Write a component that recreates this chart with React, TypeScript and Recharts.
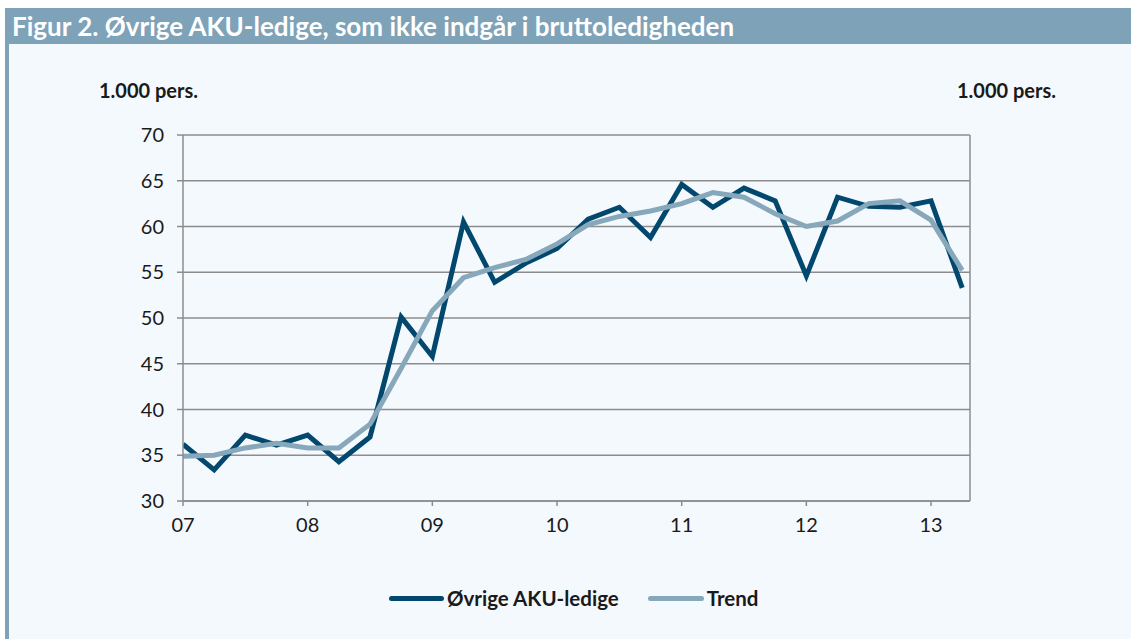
import { LineChart, Line, XAxis, YAxis, CartesianGrid } from 'recharts';

// quarterly, 2007 Q1 .. 2013 Q2
const quarters = [
  '07K1', '07K2', '07K3', '07K4',
  '08K1', '08K2', '08K3', '08K4',
  '09K1', '09K2', '09K3', '09K4',
  '10K1', '10K2', '10K3', '10K4',
  '11K1', '11K2', '11K3', '11K4',
  '12K1', '12K2', '12K3', '12K4',
  '13K1', '13K2',
];

const aku = [
  36.2, 33.4, 37.2, 36.1,
  37.2, 34.3, 37.0, 50.1,
  45.8, 60.5, 53.9, 56.0,
  57.6, 60.8, 62.1, 58.8,
  64.6, 62.1, 64.2, 62.8,
  54.6, 63.2, 62.2, 62.1,
  62.8, 53.3,
];

const trend = [
  34.9, 35.0, 35.8, 36.3,
  35.8, 35.8, 38.4, 44.5,
  50.8, 54.4, 55.5, 56.4,
  58.1, 60.2, 61.1, 61.7,
  62.5, 63.7, 63.2, 61.4,
  60.0, 60.6, 62.5, 62.8,
  60.7, 55.2,
];

const yearLabels = ['07', '08', '09', '10', '11', '12', '13'];
const yTicks = [30, 35, 40, 45, 50, 55, 60, 65, 70];

const data = quarters.map((q, i) => ({ q, i, aku: aku[i], trend: trend[i] }));

const DARK = '#02476d';
const LIGHT = '#87a7bb';
const BAR = '#7ea2b8';
const GRID = '#8c8c8c';
const FONT = 'Lato, "Open Sans", sans-serif';

export default function App() {
  const tickStyle = { fill: '#1a1a1a', fontSize: 20, fontFamily: FONT };
  return (
    <div
      style={{
        position: 'absolute',
        left: 0,
        top: 0,
        width: 1131,
        height: 639,
        background: '#ffffff',
        overflow: 'hidden',
        fontFamily: FONT,
      }}
    >
      {/* panel */}
      <div
        style={{
          position: 'absolute',
          left: 5,
          top: 8,
          right: 0,
          bottom: 0,
          background: '#f4f9fe',
          borderLeft: `4px solid ${BAR}`,
        }}
      />
      <div
        style={{
          position: 'absolute',
          left: 5,
          top: 8,
          right: 0,
          height: 36,
          background: BAR,
          color: '#ffffff',
          fontWeight: 700,
          fontSize: 26,
          lineHeight: '36px',
          paddingLeft: 7,
          whiteSpace: 'nowrap',
        }}
      >
        Figur 2. Øvrige AKU-ledige, som ikke indgår i bruttoledigheden
      </div>

      <div style={{ position: 'absolute', left: 99, top: 78, fontSize: 20, fontWeight: 700, color: '#1a1a1a' }}>
        1.000 pers.
      </div>
      <div style={{ position: 'absolute', left: 957, top: 78, fontSize: 20, fontWeight: 700, color: '#1a1a1a' }}>
        1.000 pers.
      </div>

      <div style={{ position: 'absolute', left: 0, top: 0 }}>
        <LineChart
          width={1131}
          height={639}
          data={data}
          margin={{ top: 135, right: 101, bottom: 108, left: 123 }}
        >
          <CartesianGrid
            yAxisId="left"
            horizontal
            vertical={false}
            stroke={GRID}
            strokeWidth={1.5}
          />
          <XAxis
            dataKey="i"
            type="number"
            domain={[0, 25.25]}
            ticks={[0, 4, 8, 12, 16, 20, 24]}
            tickFormatter={(v: number) => yearLabels[v / 4]}
            stroke={GRID}
            strokeWidth={1.5}
            tickSize={5}
            tickMargin={12}
            height={30}
            tick={tickStyle}
            allowDataOverflow
          />
          <YAxis
            yAxisId="left"
            orientation="left"
            domain={[30, 70]}
            ticks={yTicks}
            stroke={GRID}
            strokeWidth={1.5}
            tickSize={6}
            tickMargin={13}
            width={60}
            tick={tickStyle}
          />
          <YAxis
            yAxisId="right"
            orientation="right"
            domain={[30, 70]}
            ticks={yTicks}
            stroke={GRID}
            strokeWidth={1.5}
            tickSize={6}
            tickMargin={12}
            width={60}
            tick={{ ...tickStyle, textAnchor: 'start' }}
          />
          <Line
            yAxisId="left"
            type="linear"
            dataKey="aku"
            stroke={DARK}
            strokeWidth={5}
            dot={false}
            isAnimationActive={false}
          />
          <Line
            yAxisId="left"
            type="linear"
            dataKey="trend"
            stroke={LIGHT}
            strokeWidth={5}
            dot={false}
            isAnimationActive={false}
          />
        </LineChart>
      </div>

      {/* legend */}
      <div
        style={{
          position: 'absolute',
          left: 389,
          top: 586,
          display: 'flex',
          alignItems: 'center',
          fontSize: 20.5,
          fontWeight: 700,
          color: '#1a1a1a',
          whiteSpace: 'nowrap',
        }}
      >
        <span style={{ display: 'inline-block', width: 55, height: 5, borderRadius: 3, background: DARK, marginRight: 3 }} />
        <span>Øvrige AKU-ledige</span>
        <span style={{ display: 'inline-block', width: 56, height: 5, borderRadius: 3, background: LIGHT, marginLeft: 29, marginRight: 3 }} />
        <span>Trend</span>
      </div>
    </div>
  );
}
